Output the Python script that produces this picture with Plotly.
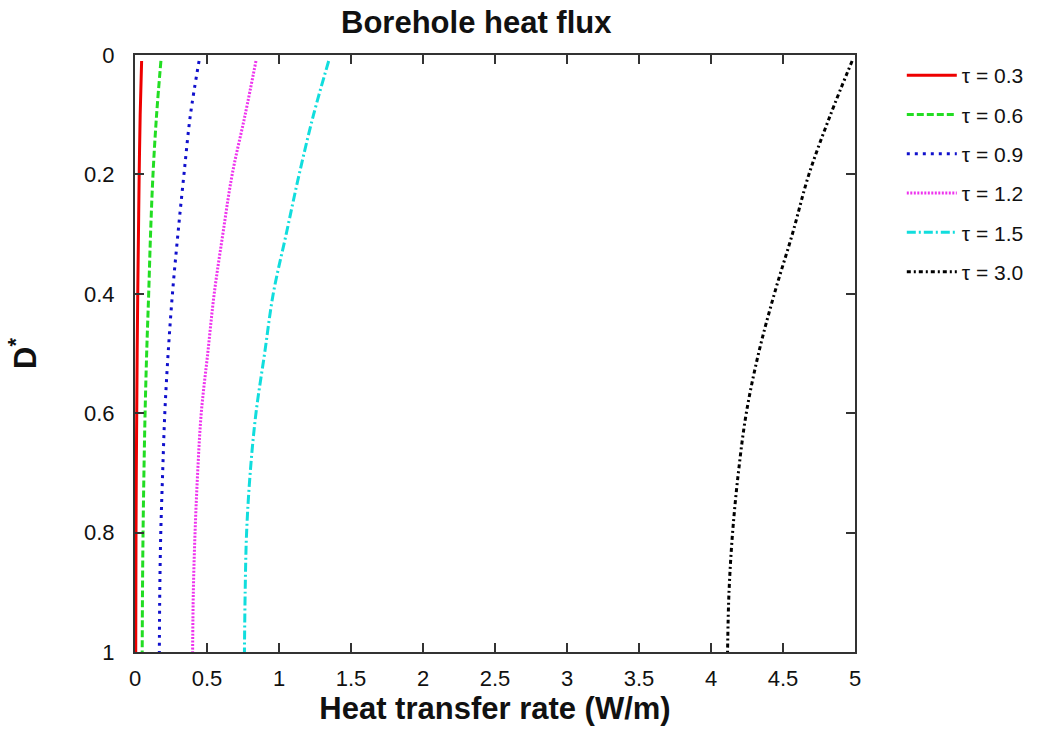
import plotly.graph_objects as go

# Dimensionless depth D* (0 = top of borehole, 1 = bottom)
depth = [0.01, 0.1, 0.2, 0.3, 0.4, 0.5, 0.6, 0.7, 0.8, 0.9, 1.0]

# Heat transfer rate along the borehole (W/m) for each dimensionless time
q_tau_03 = [0.046, 0.036, 0.029, 0.024, 0.019, 0.015, 0.012, 0.009, 0.007, 0.006, 0.005]
q_tau_06 = [0.180, 0.150, 0.125, 0.108, 0.095, 0.081, 0.070, 0.062, 0.056, 0.052, 0.050]
q_tau_09 = [0.445, 0.385, 0.340, 0.298, 0.260, 0.230, 0.207, 0.192, 0.179, 0.172, 0.169]
q_tau_12 = [0.840, 0.765, 0.675, 0.610, 0.550, 0.505, 0.460, 0.435, 0.417, 0.405, 0.400]
q_tau_15 = [1.345, 1.240, 1.140, 1.050, 0.960, 0.900, 0.840, 0.800, 0.775, 0.765, 0.760]
q_tau_30 = [4.980, 4.830, 4.680, 4.565, 4.440, 4.330, 4.245, 4.190, 4.150, 4.125, 4.115]

series = [
    ("τ = 0.3", q_tau_03, "#ee0000", "solid"),
    ("τ = 0.6", q_tau_06, "#22dd22", "7px,3px"),
    ("τ = 0.9", q_tau_09, "#1010cc", "3px,5px"),
    ("τ = 1.2", q_tau_12, "#ee33ee", "2px,1.5px"),
    ("τ = 1.5", q_tau_15, "#11dddd", "9px,3px,2px,3px"),
    ("τ = 3.0", q_tau_30, "#000000", "4px,3px,2px,3px"),
]

fig = go.Figure()
for i, (name, values, color, dash) in enumerate(series):
    fig.add_trace(go.Scatter(
        x=values, y=depth, mode="lines", name=name,
        legendgroup=f"g{i}",
        line=dict(color=color, width=3, dash=dash, shape="spline"),
    ))

axis_font = dict(family="Liberation Sans, Arial, sans-serif", size=22, color="#111111")
title_font = dict(family="Liberation Sans, Arial, sans-serif", size=31, color="#111111")

fig.update_layout(
    width=1051, height=737,
    margin=dict(l=135, r=196, t=55, b=85),
    paper_bgcolor="white", plot_bgcolor="white",
    title=dict(text="<b>Borehole heat flux</b>", x=0.474, xref="paper", xanchor="center",
               y=0.97, yanchor="middle", font=title_font),
    legend=dict(x=1.065, y=1.0, xanchor="left", yanchor="top",
                font=dict(family="Liberation Sans, Arial, sans-serif", size=21, color="#111111"),
                tracegroupgap=9, itemwidth=50, bgcolor="rgba(0,0,0,0)"),
)

fig.update_xaxes(
    range=[0, 5], dtick=0.5, tick0=0,
    ticks="inside", ticklen=9, tickwidth=1.5, tickcolor="#333333",
    showline=True, linecolor="#333333", linewidth=2, mirror="allticks",
    showgrid=False, zeroline=False,
    tickfont=axis_font, ticklabelstandoff=6,
    title=dict(text="<b>Heat transfer rate (W/m)</b>", font=title_font, standoff=5),
)
fig.update_yaxes(
    range=[1, 0], dtick=0.2, tick0=0,
    ticks="inside", ticklen=9, tickwidth=1.5, tickcolor="#333333",
    showline=True, linecolor="#333333", linewidth=2, mirror="allticks",
    showgrid=False, zeroline=False,
    tickfont=axis_font, ticklabelstandoff=14,
    title=dict(text="<b>D<sup>*</sup></b>", font=title_font, standoff=38),
)

fig.write_html("out.html")
